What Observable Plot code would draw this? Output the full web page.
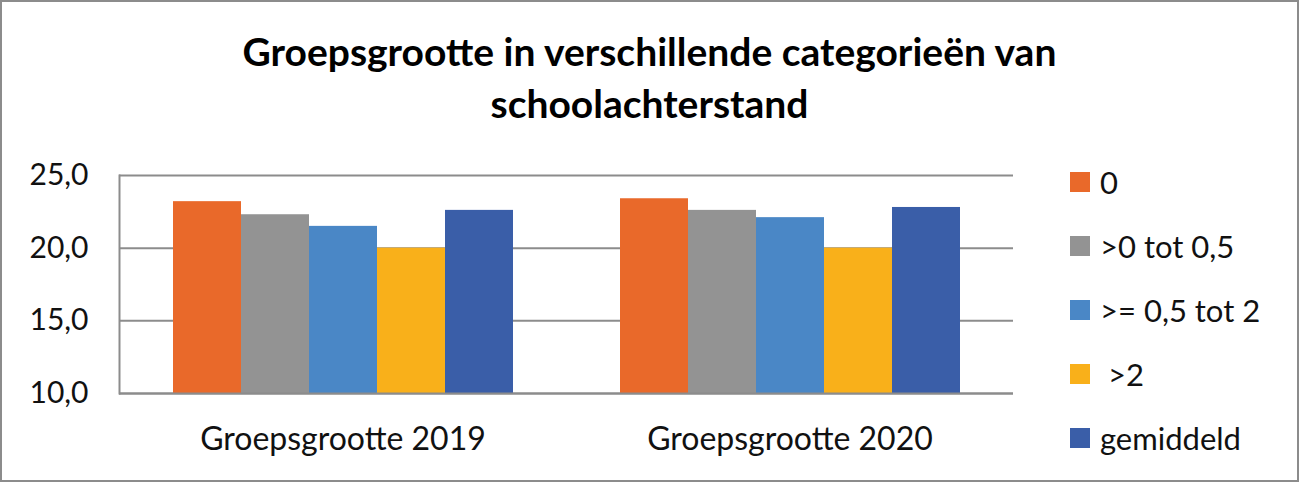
<!DOCTYPE html>
<html>
<head>
<meta charset="utf-8">
<script src="https://cdn.jsdelivr.net/npm/d3@7"></script>
<script src="https://cdn.jsdelivr.net/npm/@observablehq/plot@0.6"></script>
<style>
  body { margin: 0; background: #fff; }
  #wrap { position: relative; width: 1299px; height: 482px; overflow: hidden; font-family: Lato, "Open Sans", sans-serif; }
  #border { position: absolute; left: 0; top: 0; width: 1299px; height: 482px; box-sizing: border-box; border: 2px solid #8c8c8c; pointer-events: none; }
  #title { position: absolute; left: 0; top: 25px; width: 1299px; text-align: center; font-weight: bold; font-size: 39px; line-height: 52px; color: #000; }
  #legend { position: absolute; left: 1070px; top: 150px; }
  .item { display: flex; align-items: center; height: 64px; font-size: 31px; color: #111; white-space: pre; }
  .sw { width: 20px; height: 20px; margin-right: 10px; }
  #chart svg { display: block; }
</style>
</head>
<body>
<div id="wrap">
  <div id="chart"></div>
  <div id="title"></div>
  <div id="legend"></div>
  <div id="border"></div>
</div>
<script>
const titleLines = ["Groepsgrootte in verschillende categorieën van", "schoolachterstand"];
const groups = ["Groepsgrootte 2019", "Groepsgrootte 2020"];
const categories = ["0", ">0 tot 0,5", ">= 0,5 tot 2", " >2", "gemiddeld"];
const colors = ["#E9692A", "#939393", "#4A87C6", "#F9B01A", "#3A5EA8"];
const values2019 = [23.2, 22.3, 21.5, 20.0, 22.6];
const values2020 = [23.4, 22.6, 22.1, 20.0, 22.8];
const yTicks = [10, 15, 20, 25];

const data = [];
categories.forEach((c, i) => {
  data.push({group: groups[0], cat: c, value: values2019[i]});
  data.push({group: groups[1], cat: c, value: values2020[i]});
});

const plot = Plot.plot({
  width: 1299,
  height: 482,
  marginLeft: 119,
  marginRight: 286,
  marginTop: 175,
  marginBottom: 89,
  style: {fontFamily: "Lato, 'Open Sans', sans-serif", color: "#111", background: "transparent"},
  fx: {domain: groups, padding: 0},
  x: {domain: categories, paddingInner: 0, paddingOuter: 0.75, axis: null},
  y: {domain: [yTicks[0], yTicks[yTicks.length - 1]], axis: null},
  color: {domain: categories, range: colors},
  marks: [
    Plot.ruleY(yTicks, {y: d => d, stroke: "#8c8c8c", strokeWidth: 2}),
    Plot.barY(data, {fx: "group", x: "cat", y1: yTicks[0], y2: "value", fill: "cat"}),
    Plot.ruleY([yTicks[0]], {y: d => d, stroke: "#8c8c8c", strokeWidth: 2}),
    Plot.frame({anchor: "left", stroke: "#8c8c8c", strokeWidth: 2, facet: "super"}),
    Plot.axisY(yTicks, {anchor: "left", tickSize: 0, tickPadding: 31, fontSize: 30, label: null,
      tickFormat: d => d.toFixed(1).replace(".", ",")}),
    Plot.axisFx({anchor: "bottom", tickSize: 0, tickPadding: 34, fontSize: 32, label: null})
  ]
});
document.getElementById("chart").appendChild(plot);

const t = document.getElementById("title");
titleLines.forEach(s => { const d = document.createElement("div"); d.textContent = s; t.appendChild(d); });

const lg = document.getElementById("legend");
categories.forEach((c, i) => {
  const it = document.createElement("div");
  it.className = "item";
  const sw = document.createElement("div");
  sw.className = "sw";
  sw.style.background = colors[i];
  const tx = document.createElement("span");
  tx.textContent = c;
  it.appendChild(sw); it.appendChild(tx);
  lg.appendChild(it);
});
</script>
</body>
</html>
